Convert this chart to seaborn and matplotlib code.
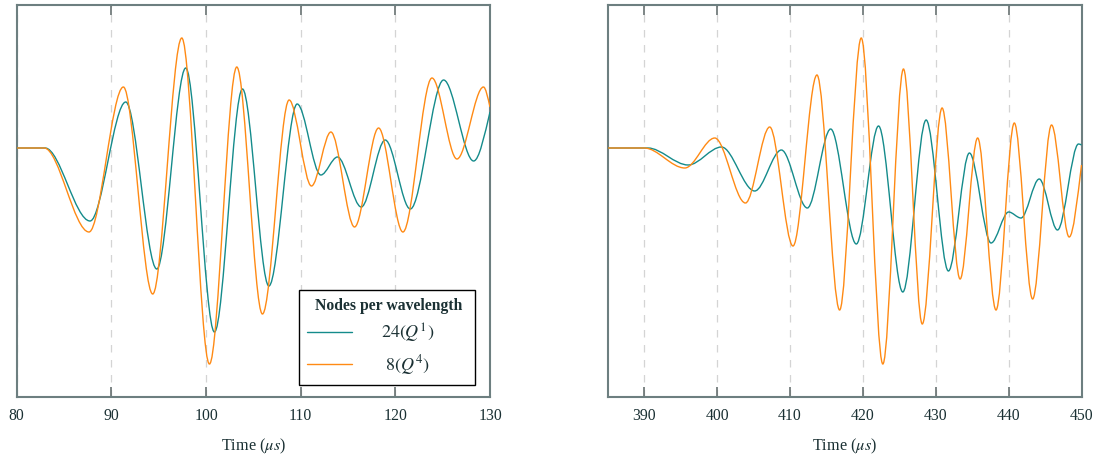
import numpy as np
import pandas as pd
import matplotlib
matplotlib.use("Agg")
import matplotlib.pyplot as plt
import seaborn as sns
from matplotlib.path import Path
from matplotlib.patches import PathPatch
from matplotlib.lines import Line2D

# ---------------- data (extrema and onset points) ----------------
series_labels = ["24($Q^1$)", "8($Q^4$)"]

left_q1_time = [80.0, 83.0, 87.75, 91.52, 94.8, 97.86, 100.89, 103.85, 106.64, 109.63,
                112.13, 113.89, 116.4, 118.93, 121.58, 125.1, 128.27, 130.0]
left_q1_value = [0.00, 0.00, -0.73, 0.46, -1.21, 0.80, -1.84, 0.59, -1.38, 0.44,
                 -0.27, -0.09, -0.59, 0.08, -0.61, 0.68, -0.13, 0.36]

left_q4_time = [80.0, 82.9, 87.64, 91.27, 94.37, 97.44, 100.36, 103.25, 105.96, 108.78,
                111.14, 113.19, 115.69, 118.23, 120.8, 123.87, 126.51, 129.31, 130.0]
left_q4_value = [0.00, 0.00, -0.84, 0.61, -1.46, 1.10, -2.16, 0.81, -1.66, 0.48,
                 -0.38, 0.16, -0.79, 0.20, -0.84, 0.70, -0.11, 0.61, 0.41]

right_q1_time = [385.0, 390.5, 396.03, 400.6, 405.16, 408.82, 412.38, 415.58, 419.1, 422.15,
                 425.48, 428.68, 431.74, 434.62, 437.59, 440.0, 441.7, 444.2, 446.71, 449.59, 450.0]
right_q1_value = [0.00, 0.00, -0.17, 0.01, -0.43, -0.02, -0.60, 0.19, -0.96, 0.22,
                  -1.44, 0.28, -1.23, -0.05, -0.95, -0.64, -0.70, -0.31, -0.82, 0.04, 0.03]

right_q4_time = [385.0, 390.0, 395.57, 399.68, 403.89, 407.22, 410.41, 413.7, 416.81, 419.78,
                 422.74, 425.57, 428.15, 430.87, 433.34, 435.75, 438.27, 440.78, 443.29, 445.89, 448.31, 450.0]
right_q4_value = [0.00, 0.00, -0.20, 0.10, -0.55, 0.21, -0.98, 0.73, -1.62, 1.10,
                  -2.16, 0.79, -1.76, 0.40, -1.31, 0.10, -1.62, 0.25, -1.51, 0.23, -0.89, -0.17]

left_ticks = [80, 90, 100, 110, 120, 130]
right_ticks = [390, 400, 410, 420, 430, 440, 450]

# ---------------- style ----------------
sns.set_theme(style="white")
plt.rcParams['font.family'] = ['Liberation Serif', 'DejaVu Serif']
plt.rcParams['mathtext.fontset'] = 'stix'

TEAL = "#148b8b"
ORANGE = "#ff8a14"
TEXT = "#1a3033"
SPINE = "#6d7f80"
TICK = "#5a6565"
GRID = "#d4d4d4"
FS = 11.3


def smooth_path(x, y, end_factor=1.4):
    """Smooth Bezier rendering through the given points (zero slope at extrema)."""
    x = np.asarray(x, float)
    y = np.asarray(y, float)
    n = len(x)
    m = np.zeros(n)
    for i in range(n):
        if 0 < i < n - 1:
            if (y[i] - y[i - 1]) * (y[i + 1] - y[i]) <= 0:
                m[i] = 0.0
            else:
                m[i] = (y[i + 1] - y[i - 1]) / (x[i + 1] - x[i - 1])
        elif i == 0:
            m[i] = 0.0 if y[1] == y[0] else end_factor * (y[1] - y[0]) / (x[1] - x[0])
        else:
            m[i] = 0.0 if y[-1] == y[-2] else end_factor * (y[-1] - y[-2]) / (x[-1] - x[-2])
    verts = [(x[0], y[0])]
    codes = [Path.MOVETO]
    for i in range(n - 1):
        d = (x[i + 1] - x[i]) / 3.0
        verts += [(x[i] + d, y[i] + m[i] * d), (x[i + 1] - d, y[i + 1] - m[i + 1] * d), (x[i + 1], y[i + 1])]
        codes += [Path.CURVE4] * 3
    return Path(verts, codes)


def make_df(t1, v1, t2, v2):
    return pd.concat([
        pd.DataFrame({"time": t1, "value": v1, "series": series_labels[0]}),
        pd.DataFrame({"time": t2, "value": v2, "series": series_labels[1]}),
    ], ignore_index=True)


fig = plt.figure(figsize=(10.96, 4.59), dpi=100)
W, H = 1096.0, 459.0
top_px, bot_px = 4.7, 396.7
ax_l = fig.add_axes([16.7 / W, 1 - bot_px / H, (490.0 - 16.7) / W, (bot_px - top_px) / H])
ax_r = fig.add_axes([607.8 / W, 1 - bot_px / H, (1081.5 - 607.8) / W, (bot_px - top_px) / H])

panels = [
    (ax_l, make_df(left_q1_time, left_q1_value, left_q4_time, left_q4_value), (80, 130), left_ticks),
    (ax_r, make_df(right_q1_time, right_q1_value, right_q4_time, right_q4_value), (385, 450), right_ticks),
]

for ax, df, xlim, ticks in panels:
    sns.lineplot(data=df, x="time", y="value", hue="series", hue_order=series_labels,
                 palette=[TEAL, ORANGE], estimator=None, sort=False, legend=False, ax=ax)
    # render each seaborn line as a smooth curve through its points
    for ln in list(ax.lines):
        xd, yd = ln.get_xdata(), ln.get_ydata()
        col = ln.get_color()
        ln.set_visible(False)
        ax.add_patch(PathPatch(smooth_path(xd, yd), fill=False, edgecolor=col, lw=1.0, zorder=3))
    ax.set_xlim(*xlim)
    ax.set_ylim(-2.487, 1.433)
    ax.set_xticks(ticks)
    ax.set_xticklabels([str(t) for t in ticks])
    ax.set_yticks([])
    ax.set_ylabel("")
    ax.set_xlabel(r"Time ($\mu s$)", fontsize=FS + 0.4, color=TEXT, labelpad=9)
    ax.tick_params(axis="x", direction="in", top=True, bottom=True, length=7.5, width=1.1,
                   color=TICK, labelsize=FS, labelcolor=TEXT, pad=8)
    ax.xaxis.grid(True, color=GRID, lw=0.9, linestyle=(0, (6, 6)))
    ax.yaxis.grid(False)
    ax.set_axisbelow(True)
    for sp in ax.spines.values():
        sp.set_visible(True)
        sp.set_color(SPINE)
        sp.set_linewidth(1.5)

handles = [Line2D([], [], color=TEAL, lw=1.0), Line2D([], [], color=ORANGE, lw=1.0)]
leg = ax_l.legend(handles, ["$24(Q^1)$", " $8(Q^4)$"], loc="lower right",
                  bbox_to_anchor=(1 - 14.7 / 473.3, 11.5 / 392.0), borderaxespad=0,
                  title="  Nodes per wavelength ", fontsize=13, alignment="left",
                  title_fontproperties={"weight": "bold", "size": 11.3, "family": "Liberation Serif"},
                  frameon=True, fancybox=False, framealpha=1, edgecolor="black",
                  handlelength=2.5, handletextpad=1.6, labelspacing=0.42, borderpad=0.48)
leg.get_frame().set_linewidth(1.0)
leg.get_title().set_color(TEXT)
for t in leg.get_texts():
    t.set_color(TEXT)

fig.savefig("out.png", dpi=100)
